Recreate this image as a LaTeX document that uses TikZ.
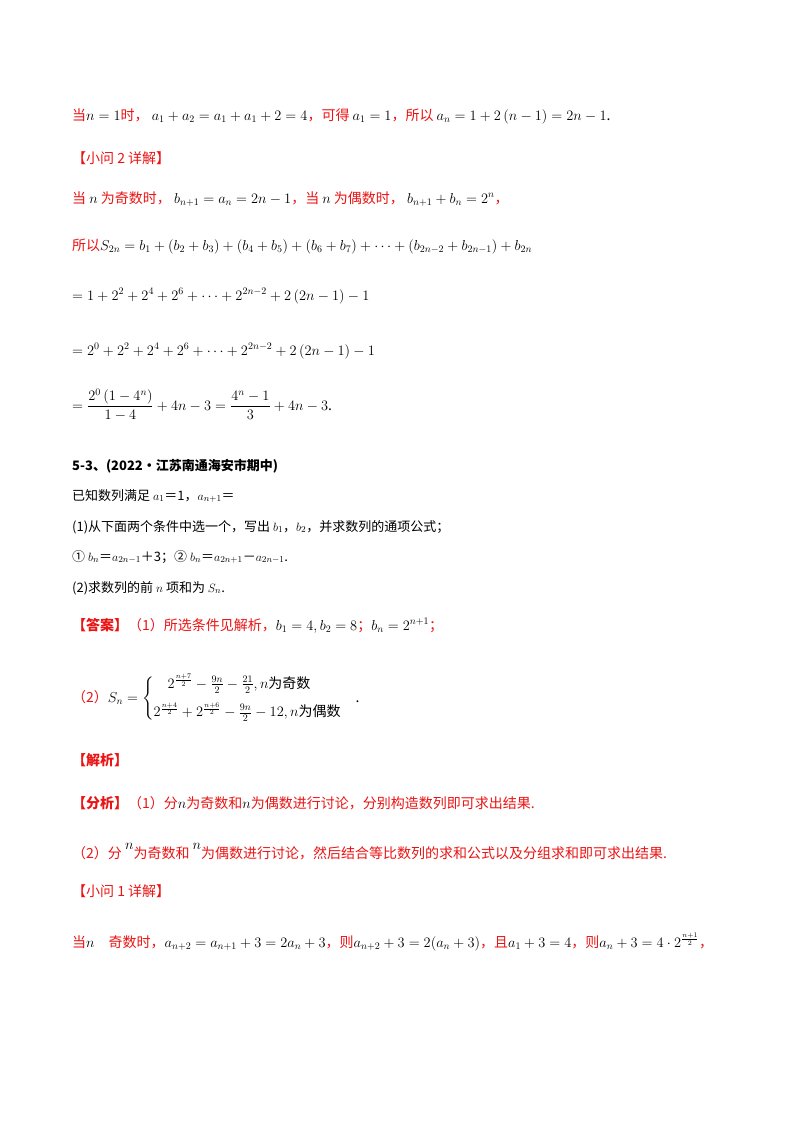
\documentclass[tikz,border=0pt]{standalone}
\usepackage{amsmath}
\usepackage{fontspec}
\newfontfamily\cjk{Noto Sans CJK SC}
\definecolor{rd}{RGB}{235,20,20}
\begin{document}
\begin{tikzpicture}[x=1pt,y=1pt,
  ln/.style={anchor=base west,inner sep=0pt,font=\fontsize{14}{16}\selectfont\cjk}]
\useasboundingbox[fill=white] (0,0) rectangle (800,-1132);
\newcommand{\R}[1]{\textcolor{rd}{#1}}
\node[ln] (l1) at (72,-120) {\R{当}$n=1$\R{时，} $a_1+a_2=a_1+a_1+2=4$\R{，可得} $a_1=1$\R{，所以} $a_n=1+2\left(n-1\right)=2n-1$.};
\node[ln] (l2) at (72,-163) {\R{【小问 2 详解】}};
\node[ln] (l3) at (72,-203) {\R{当} $n$ \R{为奇数时，} $b_{n+1}=a_n=2n-1$\R{，当} $n$ \R{为偶数时，} $b_{n+1}+b_n=2^n$\R{，}};
\node[ln] (l4) at (72,-250) {\R{所以}$S_{2n}=b_1+\left(b_2+b_3\right)+\left(b_4+b_5\right)+\left(b_6+b_7\right)+\cdots+\left(b_{2n-2}+b_{2n-1}\right)+b_{2n}$};
\node[ln] (l5) at (72,-300) {$=1+2^2+2^4+2^6+\cdots+2^{2n-2}+2\left(2n-1\right)-1$};
\node[ln] (l6) at (72,-355) {$=2^0+2^2+2^4+2^6+\cdots+2^{2n-2}+2\left(2n-1\right)-1$};
\node[ln] (l7) at (72,-410) {$=\dfrac{2^0\left(1-4^n\right)}{1-4}+4n-3=\dfrac{4^n-1}{3}+4n-3$.};
\node[ln,font=\fontsize{13}{15}\selectfont\cjk\bfseries] (l8) at (72,-470) {5-3、(2022·江苏南通海安市期中)};
\node[ln,font=\fontsize{13}{15}\selectfont\cjk] (l9) at (72,-500) {已知数列满足 $a_1$＝1，$a_{n+1}$＝};
\node[ln,font=\fontsize{13}{15}\selectfont\cjk] (l10) at (72,-531) {(1)从下面两个条件中选一个，写出 $b_1$，$b_2$，并求数列的通项公式；};
\node[ln,font=\fontsize{13}{15}\selectfont\cjk] (l11) at (72,-561) {① $b_n$＝$a_{2n-1}$＋3；② $b_n$＝$a_{2n+1}$－$a_{2n-1}$.};
\node[ln,font=\fontsize{13}{15}\selectfont\cjk] (l12) at (72,-592) {(2)求数列的前 $n$ 项和为 $S_n$.};
\node[ln] (l13) at (72,-630) {\R{\bfseries【答案】}\R{（1）所选条件见解析，}$b_1=4,b_2=8$\R{；}$b_n=2^{n+1}$\R{；}};
\node[ln] (l14) at (72,-702) {\R{（2）}$S_n=\begin{cases}\quad 2^{\frac{n+7}{2}}-\frac{9n}{2}-\frac{21}{2},n\text{为奇数}\\[9pt] 2^{\frac{n+4}{2}}+2^{\frac{n+6}{2}}-\frac{9n}{2}-12,n\text{为偶数}\end{cases}$.};
\node[ln] (l15) at (72,-765) {\R{\bfseries【解析】}};
\node[ln] (l16) at (72,-808) {\R{\bfseries【分析】}\R{（1）分}$n$\R{为奇数和}$n$\R{为偶数进行讨论，分别构造数列即可求出结果.}};
\node[ln] (l17) at (72,-858) {\R{（2）分 }\raisebox{9pt}{$n$}\R{为奇数和 }\raisebox{9pt}{$n$}\R{为偶数进行讨论，然后结合等比数列的求和公式以及分组求和即可求出结果.}};
\node[ln] (l18) at (72,-896) {\R{【小问 1 详解】}};
\node[ln] (l19) at (72,-947) {\R{当}$n$\quad\R{奇数时，}$a_{n+2}=a_{n+1}+3=2a_n+3$\R{，则}$a_{n+2}+3=2(a_n+3)$\R{，且}$a_1+3=4$\R{，则}$a_n+3=4\cdot2^{\frac{n+1}{2}}$\R{，}};
\end{tikzpicture}
\end{document}
